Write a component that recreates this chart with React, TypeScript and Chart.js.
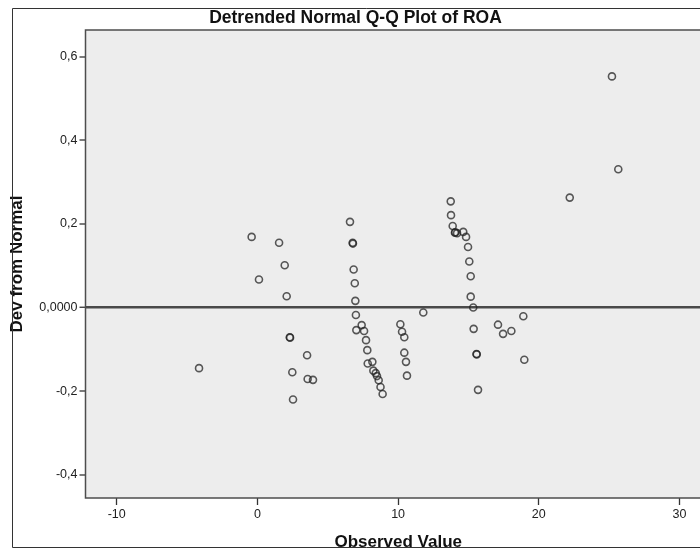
import React, { useEffect, useRef } from "react";
import { Chart, registerables } from "chart.js";

Chart.register(...registerables);

const TITLE = "Detrended Normal Q-Q Plot of ROA";
const X_TITLE = "Observed Value";
const Y_TITLE = "Dev from Normal";

const observed = [
  -4.15, -0.41, 0.11, 1.54, 1.94, 2.08, 2.3, 2.32, 2.48, 2.53, 3.53, 3.57, 3.95,
  6.58, 6.77, 6.79, 6.84, 6.92, 6.96, 7.0, 7.03, 7.41, 7.58, 7.72, 7.81, 7.84,
  8.17, 8.24, 8.41, 8.5, 8.62, 8.75, 8.9,
  10.16, 10.28, 10.44, 10.44, 10.56, 10.63, 11.79,
  13.74, 13.76, 13.88, 14.04, 14.06, 14.19, 14.63, 14.83, 14.97, 15.06, 15.16,
  15.16, 15.34, 15.37, 15.57, 15.59, 15.68,
  17.1, 17.46, 18.05, 18.9, 18.97, 22.2, 25.2, 25.65,
];
const deviation = [
  -0.145, 0.169, 0.067, 0.155, 0.101, 0.027, -0.071, -0.072, -0.155, -0.22, -0.114, -0.171, -0.173,
  0.205, 0.155, 0.153, 0.091, 0.058, 0.016, -0.018, -0.054, -0.042, -0.056, -0.078, -0.102, -0.134,
  -0.13, -0.151, -0.157, -0.164, -0.174, -0.19, -0.207,
  -0.04, -0.058, -0.071, -0.108, -0.13, -0.163, -0.012,
  0.254, 0.221, 0.195, 0.179, 0.18, 0.178, 0.181, 0.169, 0.145, 0.11, 0.075,
  0.026, 0.0, -0.051, -0.111, -0.112, -0.197,
  -0.041, -0.063, -0.056, -0.021, -0.125, 0.263, 0.553, 0.331,
];

const xTicks = [-10, 0, 10, 20, 30];
const xTickLabels = ["-10", "0", "10", "20", "30"];
const yTicks = [-0.4, -0.2, 0, 0.2, 0.4, 0.6];
const yTickLabels = ["-0,4", "-0,2", "0,0000", "0,2", "0,4", "0,6"];

const FONT = "'Liberation Sans', Arial, sans-serif";

export default function App() {
  const ref = useRef<HTMLCanvasElement | null>(null);

  useEffect(() => {
    const canvas = ref.current;
    if (!canvas) return;

    const framePlugin = {
      id: "spssFrame",
      beforeDraw(chart: any) {
        const { ctx, chartArea: a } = chart;
        ctx.save();
        ctx.fillStyle = "#ffffff";
        ctx.fillRect(0, 0, chart.width, chart.height);
        ctx.fillStyle = "#ededed";
        ctx.fillRect(a.left, a.top, a.right - a.left, a.bottom - a.top);
        ctx.restore();
      },
      afterDraw(chart: any) {
        const { ctx, chartArea: a } = chart;
        ctx.save();
        ctx.strokeStyle = "#4d4d4d";
        ctx.lineWidth = 1.5;
        ctx.beginPath();
        ctx.moveTo(a.right, a.top);
        ctx.lineTo(a.left, a.top);
        ctx.lineTo(a.left, a.bottom);
        ctx.lineTo(a.right, a.bottom);
        ctx.stroke();
        ctx.fillStyle = "#ffffff";
        ctx.fillRect(0, 548, chart.width, chart.height - 548);
        ctx.strokeStyle = "#333333";
        ctx.lineWidth = 1;
        ctx.beginPath();
        ctx.moveTo(chart.width, 8.5);
        ctx.lineTo(12.5, 8.5);
        ctx.lineTo(12.5, 547.5);
        ctx.lineTo(chart.width, 547.5);
        ctx.stroke();
        ctx.restore();
      },
    };

    const chart = new Chart(canvas, {
      type: "scatter",
      data: {
        datasets: [
          {
            label: Y_TITLE,
            data: observed.map((x, i) => ({ x, y: deviation[i] })),
            pointRadius: 3.5,
            pointBorderWidth: 1.6,
            pointBackgroundColor: "rgba(0,0,0,0)",
            pointBorderColor: "rgba(35,35,35,0.75)",
          },
        ],
      },
      options: {
        responsive: false,
        animation: false,
        layout: { padding: { left: 0, right: 9, top: 0, bottom: 0 } },
        plugins: {
          legend: { display: false },
          tooltip: { enabled: false },
          title: {
            display: true,
            text: TITLE,
            color: "#111",
            font: { family: FONT, size: 17.5, weight: "bold" },
            padding: { top: 8, bottom: 1 },
          },
        },
        scales: {
          x: {
            type: "linear",
            min: -12.22,
            max: 32.24,
            afterBuildTicks: (s: any) => {
              s.ticks = xTicks.map((v) => ({ value: v }));
            },
            afterFit: (s: any) => {
              s.height = 52;
            },
            border: { display: false },
            grid: {
              drawOnChartArea: false,
              drawTicks: true,
              tickLength: 7,
              tickColor: "#333",
              tickWidth: 1.3,
            },
            ticks: {
              padding: 2,
              color: "#222",
              font: { family: FONT, size: 12.5 },
              callback: (_v: any, i: number) => xTickLabels[i],
            },
            title: {
              display: true,
              text: X_TITLE,
              color: "#111",
              font: { family: FONT, size: 17, weight: "bold" },
              padding: { top: 0, bottom: -3 },
            },
          },
          y: {
            type: "linear",
            min: -0.4557,
            max: 0.664,
            afterBuildTicks: (s: any) => {
              s.ticks = yTicks.map((v) => ({ value: v }));
            },
            afterFit: (s: any) => {
              s.width = 85.5;
            },
            border: { display: false },
            grid: {
              drawOnChartArea: true,
              drawTicks: true,
              tickLength: 6,
              tickColor: "#333",
              tickWidth: 1.3,
              color: (c: any) => (c.tick && c.tick.value === 0 ? "#4a4a4a" : "rgba(0,0,0,0)"),
              lineWidth: (c: any) => (c.tick && c.tick.value === 0 ? 2.5 : 0),
            },
            ticks: {
              padding: 2,
              color: "#222",
              font: { family: FONT, size: 12.5 },
              callback: (_v: any, i: number) => yTickLabels[i],
            },
            title: {
              display: true,
              text: Y_TITLE,
              color: "#111",
              font: { family: FONT, size: 17, weight: "bold" },
              padding: { top: 7, bottom: 0 },
            },
          },
        },
      },
      plugins: [framePlugin],
    } as any);

    return () => chart.destroy();
  }, []);

  return (
    <div
      style={{
        position: "fixed",
        left: 0,
        top: 0,
        width: 700,
        height: 550,
        overflow: "hidden",
        background: "#fff",
      }}
    >
      <canvas ref={ref} width={720} height={550} style={{ width: 720, height: 550, display: "block" }} />
    </div>
  );
}
